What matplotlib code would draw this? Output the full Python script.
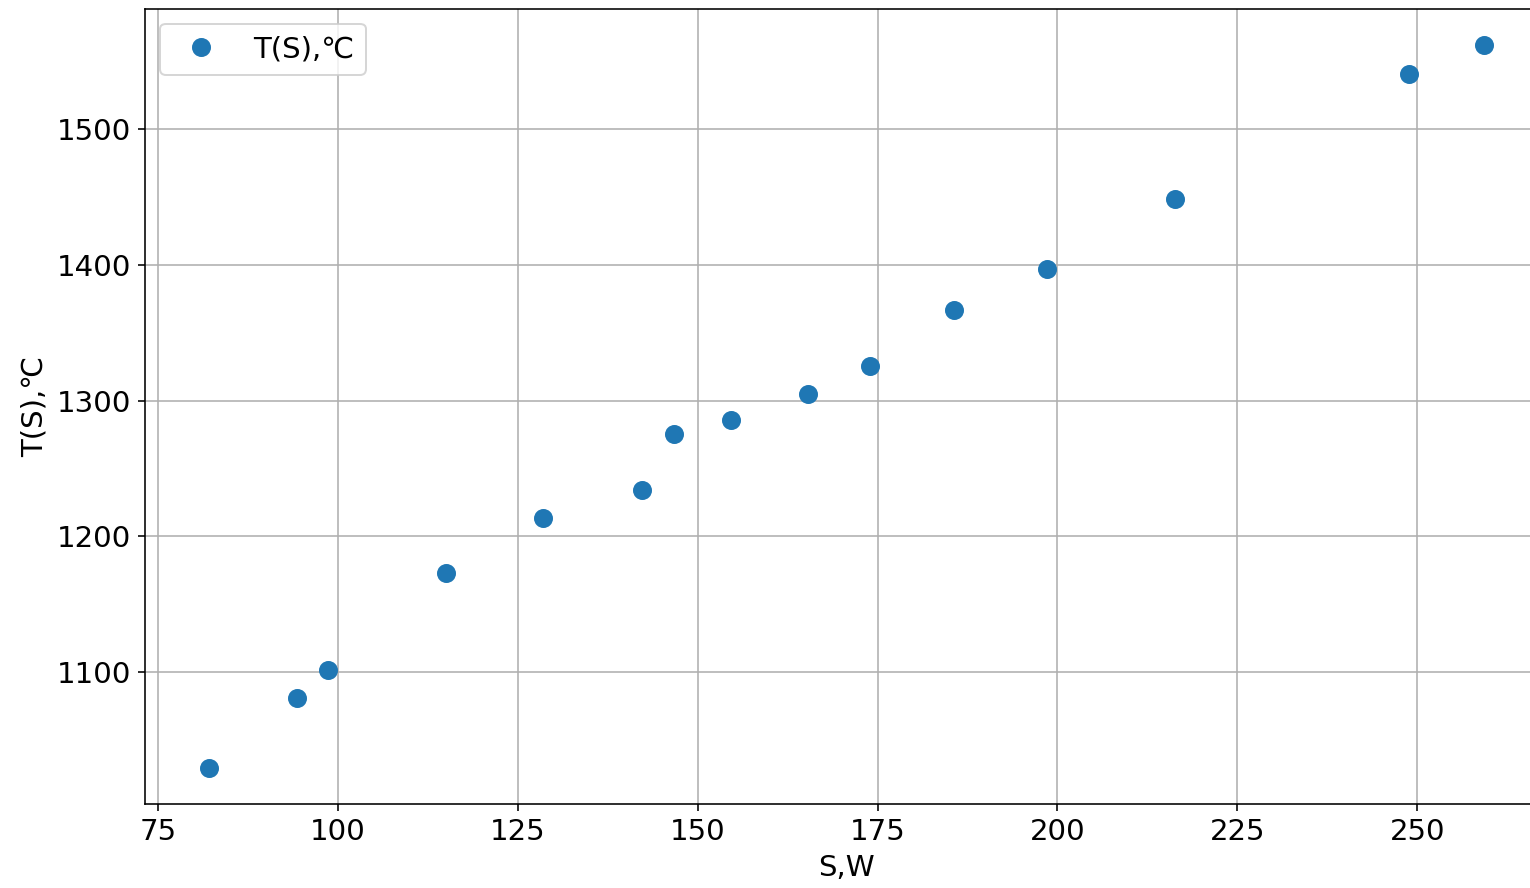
import matplotlib
matplotlib.use("Agg")
import matplotlib.pyplot as plt

# мощность S, Вт и температура T, °C
S = [82.1, 94.3, 98.6, 115.0, 128.5, 142.2, 146.7, 154.6, 165.4, 174.0,
     185.6, 198.6, 216.3, 248.8, 259.3]
T = [1029.4, 1080.9, 1101.5, 1172.8, 1213.2, 1233.8, 1275.0, 1285.3, 1305.1,
     1325.7, 1366.9, 1397.0, 1448.5, 1540.4, 1561.8]

plt.rcParams['font.size'] = 14.6

fig = plt.figure(figsize=(1530 / 144, 888 / 144), dpi=144)
# оси чуть шире картинки, правый край обрезан как в оригинале
ax = fig.add_axes([145.3 / 1530, 84 / 888, 1402.6 / 1530, 795 / 888])

ax.plot(S, T, 'o', color='#1f77b4', markersize=8.5, label='T(S),℃')
ax.set_xlabel('S,W')
ax.set_ylabel('T(S),℃')
ax.grid(True, color='#b0b0b0', linewidth=0.8)
ax.legend(loc='upper left')

fig.savefig('out.png', dpi=144)
